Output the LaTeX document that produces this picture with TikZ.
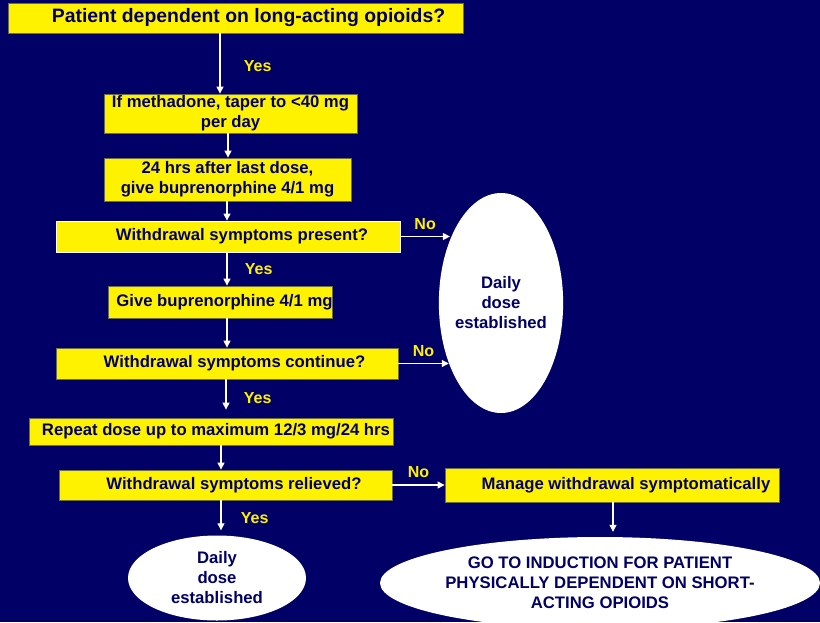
\documentclass[tikz,border=0pt]{standalone}
\usepackage{fontspec}
\setmainfont{Liberation Sans}
\usetikzlibrary{shapes.geometric,arrows.meta}
\definecolor{slidebg}{RGB}{0,0,102}
\definecolor{boxtext}{RGB}{0,0,102}
\definecolor{boxline}{RGB}{110,110,70}
\tikzset{
  box/.style={draw=boxline, fill=yellow, text=boxtext, align=center, inner sep=0pt, line width=0.8pt,
    font=\bfseries\fontsize{16.7}{20}\selectfont},
  oval/.style={ellipse, fill=white, text=boxtext, align=center, inner sep=0pt,
    font=\bfseries\fontsize{16.7}{20}\selectfont},
  arr/.style={draw=white, line width=1.2pt, -{Triangle[width=7pt,length=7pt]}},
  lbl/.style={text=yellow, font=\bfseries\fontsize{16}{19}\selectfont}
}

\begin{document}
\begin{tikzpicture}[x=1pt,y=1pt]
    \useasboundingbox (0,0) rectangle (820,-622);
    \fill[slidebg] (0,0) rectangle (820,-622);

    % main column
    \node[box, minimum width=455, minimum height=30, font=\bfseries\fontsize{19.4}{23}\selectfont] (b1) at (235.5,-18)
        {\hspace*{26pt}Patient dependent on long-acting opioids?};
    \node[box, minimum width=253, minimum height=39] (b2) at (230.5,-113.5) {If methadone, taper to <40 mg\\per day};
    \node[box, minimum width=247, minimum height=43] (b3) at (227.5,-179.5) {24 hrs after last dose,\\give buprenorphine 4/1 mg};
    \node[box, draw=white, minimum width=344, minimum height=31] (b4) at (228,-236.5) {\hspace*{28pt}Withdrawal symptoms present?};
    \node[box, minimum width=217, minimum height=32] (b5) at (220.5,-302) {\hspace*{8pt}Give buprenorphine 4/1 mg};
    \node[box, minimum width=342, minimum height=31] (b6) at (227,-363.5) {\hspace*{15pt}Withdrawal symptoms continue?};
    \node[box, minimum width=364, minimum height=27] (b7) at (211,-431.5) {\hspace*{10pt}Repeat dose up to maximum 12/3 mg/24 hrs};
    \node[box, minimum width=333, minimum height=30] (b8) at (225.5,-485) {\hspace*{17pt}Withdrawal symptoms relieved?};
    \node[box, minimum width=334, minimum height=34] (b9) at (612,-485) {\hspace*{28pt}Manage withdrawal symptomatically};

    % end points
    \node[oval, inner sep=-2pt, minimum width=124, minimum height=220] (e1) at (501,-303) {Daily\\dose\\established};
    \node[oval, minimum width=178, minimum height=85] (e2) at (217,-578) {Daily\\dose\\established};
    \node[oval, minimum width=440, minimum height=92] (e3) at (600,-583)
        {GO TO INDUCTION FOR PATIENT\\PHYSICALLY DEPENDENT ON SHORT-\\ACTING OPIOIDS};

    % arrows
    \draw[arr] ([xshift=-15.5pt]b1.south) -- node[lbl, right=20pt, yshift=-3pt] {Yes} ([xshift=-10.5pt]b2.north);
    \draw[arr] ([xshift=-2.5pt]b2.south) -- ([xshift=0.5pt]b3.north);
    \draw[arr] ([xshift=-0.5pt]b3.south) -- ([xshift=-1pt]b4.north);
    \draw[arr] ([xshift=-1pt]b4.south) -- node[lbl, right=14pt] {Yes} ([xshift=6.5pt]b5.north);
    \draw[arr] ([xshift=6.5pt]b5.south) -- (b6.north);
    \draw[arr, shorten >=8pt] ([xshift=-1pt]b6.south) -- node[lbl, right=14pt] {Yes} ([xshift=15pt]b7.north);
    \draw[arr] ([xshift=10pt]b7.south) -- ([xshift=-4.5pt]b8.north);
    \draw[arr, shorten >=5pt] ([xshift=-4.5pt]b8.south) -- node[lbl, right=16pt] {Yes} ([xshift=4pt]e2.north);
    \draw[arr, shorten >=5pt] ([xshift=1pt]b9.south) -- ([xshift=13pt]e3.north);

    \draw[arr] (b4.east) -- node[lbl, above=3pt] {No} (b4.east -| e1.129);
    \draw[arr] (b6.east) -- node[lbl, above=3pt] {No} (b6.east -| e1.229);
    \draw[arr] (b8.east) -- node[lbl, above=3pt] {No} (b8.east -| b9.west);
\end{tikzpicture}
\end{document}
